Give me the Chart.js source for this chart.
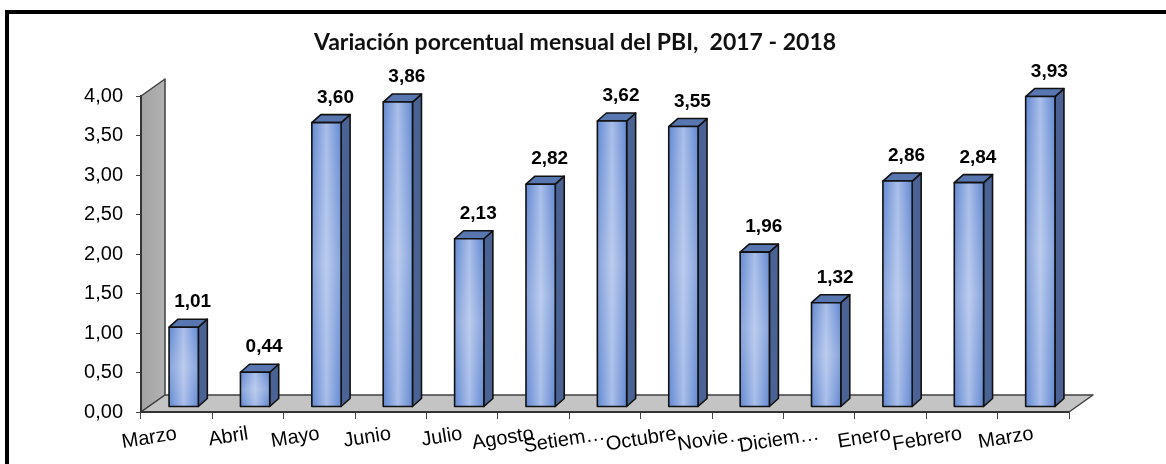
<!DOCTYPE html>
<html>
<head>
<meta charset="utf-8">
<script src="https://cdn.jsdelivr.net/npm/chart.js"></script>
<style>
  html, body { margin: 0; padding: 0; background: #fff; }
  #wrap { position: relative; width: 1166px; height: 464px; }
</style>
</head>
<body>
<div id="wrap"><canvas id="chart"></canvas></div>
<script>
const categories = ["Marzo", "Abril", "Mayo", "Junio", "Julio", "Agosto", "Setiem…",
  "Octubre", "Novie…", "Diciem…", "Enero", "Febrero", "Marzo"];
const variacion = [1.01, 0.44, 3.60, 3.86, 2.13, 2.82, 3.62, 3.55, 1.96, 1.32, 2.86, 2.84, 3.93];
const yTicks = [0, 0.5, 1, 1.5, 2, 2.5, 3, 3.5, 4];
const titulo = "Variación porcentual mensual del PBI,  2017 - 2018";

const fmt = v => v.toFixed(2).replace(".", ",");

// depth of the 3D floor / wall and of each bar
const DEPTH = { dx: 24, dy: -17 };
const BAR = { ox: 7, oy: -5, dx: 9, dy: -8 };

const frame3d = {
  id: "frame3d",
  beforeDraw(chart) {
    const ctx = chart.ctx;
    ctx.save();
    ctx.fillStyle = "#fff";
    ctx.fillRect(0, 0, chart.width, chart.height);
    ctx.fillStyle = "#000";
    ctx.fillRect(5, 10, chart.width - 5, 4);
    ctx.fillRect(5, 10, 4, chart.height - 10);
    // title
    ctx.fillStyle = "#111";
    ctx.font = "bold 23px Lato, sans-serif";
    ctx.textAlign = "center";
    ctx.textBaseline = "middle";
    ctx.fillText(titulo, 575, 43);
    ctx.restore();
  },
  beforeDatasetsDraw(chart) {
    const ctx = chart.ctx;
    const a = chart.chartArea;
    const { dx, dy } = DEPTH;
    ctx.save();
    ctx.lineWidth = 1.5;
    ctx.strokeStyle = "#404040";
    ctx.lineJoin = "round";
    // side wall
    const wg = ctx.createLinearGradient(a.left, 0, a.left + dx, 0);
    wg.addColorStop(0, "#a2a2a2");
    wg.addColorStop(1, "#b2b2b2");
    ctx.fillStyle = wg;
    ctx.beginPath();
    ctx.moveTo(a.left, a.bottom);
    ctx.lineTo(a.left, a.top);
    ctx.lineTo(a.left + dx, a.top + dy);
    ctx.lineTo(a.left + dx, a.bottom + dy);
    ctx.closePath();
    ctx.fill();
    ctx.stroke();
    // floor
    ctx.fillStyle = "#c4c4c4";
    ctx.beginPath();
    ctx.moveTo(a.left, a.bottom);
    ctx.lineTo(a.right, a.bottom);
    ctx.lineTo(a.right + dx, a.bottom + dy);
    ctx.lineTo(a.left + dx, a.bottom + dy);
    ctx.closePath();
    ctx.fill();
    ctx.stroke();
    ctx.beginPath();
    ctx.moveTo(a.left, a.top);
    ctx.lineTo(a.left, a.bottom);
    ctx.lineTo(a.right, a.bottom);
    ctx.strokeStyle = "#333";
    ctx.lineWidth = 2;
    ctx.stroke();
    ctx.restore();
  },
  afterDatasetsDraw(chart) {
    const ctx = chart.ctx;
    const meta = chart.getDatasetMeta(0);
    ctx.save();
    ctx.lineJoin = "round";
    ctx.lineWidth = 1.6;
    ctx.strokeStyle = "#111";
    meta.data.forEach((bar, i) => {
      const p = bar.getProps(["x", "y", "base", "width"], true);
      const l = p.x - p.width / 2 + BAR.ox;
      const r = p.x + p.width / 2 + BAR.ox;
      const t = p.y + BAR.oy;
      const b = p.base + BAR.oy;
      // side
      ctx.fillStyle = "#4a6394";
      ctx.beginPath();
      ctx.moveTo(r, t);
      ctx.lineTo(r + BAR.dx, t + BAR.dy);
      ctx.lineTo(r + BAR.dx, b + BAR.dy);
      ctx.lineTo(r, b);
      ctx.closePath();
      ctx.fill();
      ctx.stroke();
      // top
      ctx.fillStyle = "#5877b0";
      ctx.beginPath();
      ctx.moveTo(l, t);
      ctx.lineTo(l + BAR.dx, t + BAR.dy);
      ctx.lineTo(r + BAR.dx, t + BAR.dy);
      ctx.lineTo(r, t);
      ctx.closePath();
      ctx.fill();
      ctx.stroke();
      // front
      const g = ctx.createLinearGradient(l, 0, r, 0);
      g.addColorStop(0, "#6389d2");
      g.addColorStop(0.5, "#a9bee9");
      g.addColorStop(1, "#6389d2");
      ctx.fillStyle = g;
      ctx.fillRect(l, t, r - l, b - t);
      const v = ctx.createLinearGradient(0, t, 0, b);
      v.addColorStop(0, "rgba(255,255,255,0)");
      v.addColorStop(0.5, "rgba(255,255,255,0.22)");
      v.addColorStop(1, "rgba(255,255,255,0)");
      ctx.fillStyle = v;
      ctx.fillRect(l, t, r - l, b - t);
      ctx.strokeRect(l, t, r - l, b - t);
      // value label
      ctx.fillStyle = "#000";
      ctx.font = "bold 19px 'Liberation Sans', Arial, sans-serif";
      ctx.textAlign = "center";
      ctx.textBaseline = "middle";
      ctx.fillText(fmt(variacion[i]), (l + r) / 2 + 9, t - 25);
    });
    ctx.restore();
  }
};

new Chart(document.getElementById("chart"), {
  type: "bar",
  data: {
    labels: categories,
    datasets: [{
      data: variacion,
      backgroundColor: "rgba(0,0,0,0)",
      borderWidth: 0,
      categoryPercentage: 1,
      barPercentage: 0.41
    }]
  },
  options: {
    responsive: true,
    maintainAspectRatio: false,
    animation: false,
    events: [],
    layout: { padding: { left: 10, right: 97, top: 96, bottom: 0 } },
    plugins: {
      legend: { display: false },
      tooltip: { enabled: false },
      title: { display: false }
    },
    scales: {
      y: {
        min: 0,
        max: 4,
        afterFit(scale) { scale.width = 131; },
        afterBuildTicks(scale) { scale.ticks = yTicks.map(v => ({ value: v })); },
        ticks: {
          callback: v => fmt(v),
          color: "#000",
          padding: 13,
          font: { family: "'Liberation Sans', Arial, sans-serif", size: 20 }
        },
        grid: { drawOnChartArea: false, drawTicks: true, tickLength: 5, color: "#444" },
        border: { display: true, color: "#333", width: 1.5 }
      },
      x: {
        afterFit(scale) { scale.height = 52; },
        ticks: {
          autoSkip: false,
          minRotation: 9,
          maxRotation: 9,
          color: "#000",
          padding: 3,
          font: { family: "'Liberation Sans', Arial, sans-serif", size: 20 }
        },
        grid: { drawOnChartArea: false, drawTicks: true, tickLength: 7, color: "#444", offset: true },
        border: { display: true, color: "#333", width: 1.5 }
      }
    }
  },
  plugins: [frame3d]
});
</script>
</body>
</html>
